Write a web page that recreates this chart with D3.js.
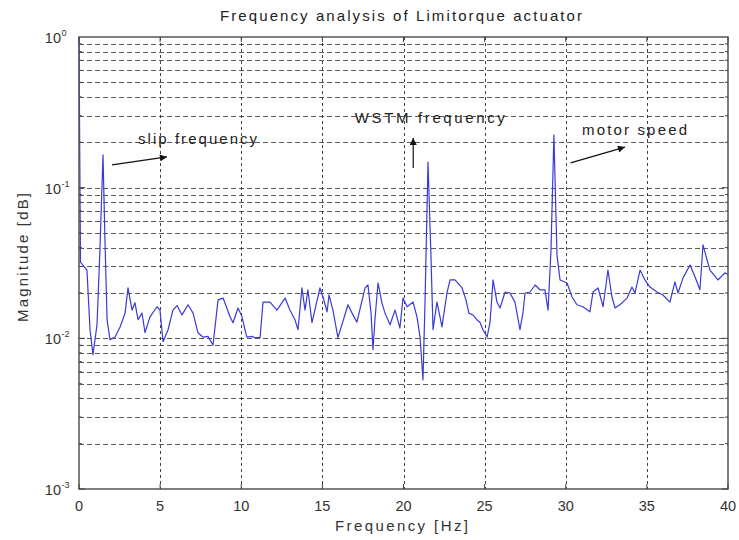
<!DOCTYPE html>
<html>
<head>
<meta charset="utf-8">
<script src="https://cdn.jsdelivr.net/npm/d3@7"></script>
<style>
  html, body { margin: 0; padding: 0; background: #fff; }
  svg { display: block; }
  text { font-family: "Liberation Sans", Arial, Helvetica, sans-serif; }
</style>
</head>
<body>
<svg id="chart" width="739" height="540"></svg>
<script>
// Spectrum of the actuator current (frequency in Hz, magnitude on log scale)
const freqHz = [
  0, 0.09, 0.49, 0.68, 0.86, 1.11, 1.29, 1.48, 1.60, 1.73, 1.91, 2.22, 2.53, 2.84, 3.02,
  3.27, 3.45, 3.64, 3.88, 4.07, 4.38, 4.81, 4.99, 5.18, 5.49, 5.79, 6.04, 6.35, 6.72, 7.03,
  7.33, 7.64, 7.95, 8.26, 8.57, 8.88, 9.31, 9.49, 9.80, 10.05, 10.23, 10.35, 10.66, 10.85, 11.16,
  11.34, 11.77, 12.20, 12.70, 13.00, 13.31, 13.50, 13.74, 13.93, 14.11, 14.36, 14.61, 14.85, 15.04, 15.29,
  15.41, 15.65, 15.96, 16.58, 16.83, 17.13, 17.63, 17.81, 18.00, 18.12, 18.24, 18.43, 18.67, 18.86, 19.17,
  19.48, 19.78, 19.97, 20.22, 20.59, 20.83, 21.02, 21.20, 21.33, 21.51, 21.69, 21.82, 22.06, 22.25, 22.37,
  22.68, 22.87, 23.17, 23.61, 23.85, 24.03, 24.28, 24.52, 24.71, 24.90, 25.15, 25.33, 25.52, 25.76, 25.95,
  26.26, 26.56, 26.87, 27.18, 27.37, 27.49, 27.80, 28.11, 28.41, 28.72, 28.91, 29.09, 29.27, 29.46, 29.65,
  30.08, 30.39, 30.69, 31.06, 31.49, 31.68, 31.99, 32.11, 32.30, 32.60, 32.85, 33.04, 33.34, 33.78, 34.08,
  34.27, 34.58, 34.88, 35.19, 35.62, 35.99, 36.42, 36.73, 36.92, 37.23, 37.66, 37.97, 38.27, 38.46, 38.71,
  38.89, 39.38, 39.81, 40.0
];
const magnitude = [
  1.0, 0.0321, 0.0284, 0.0114, 0.0078, 0.0123, 0.0386, 0.165, 0.045, 0.0133, 0.0098, 0.0102, 0.0119, 0.0147, 0.0216,
  0.0154, 0.0172, 0.0133, 0.0147, 0.0109, 0.0139, 0.0162, 0.0154, 0.0095, 0.0114, 0.0154, 0.0165, 0.0143, 0.0167, 0.0147,
  0.0109, 0.0102, 0.0103, 0.0090, 0.0180, 0.0185, 0.0139, 0.0127, 0.0159, 0.0139, 0.0114, 0.0102, 0.0103, 0.0101, 0.0101,
  0.0174, 0.0174, 0.0154, 0.0185, 0.0154, 0.0133, 0.0114, 0.0216, 0.0154, 0.0210, 0.0127, 0.0167, 0.0216, 0.0188, 0.0150,
  0.0194, 0.0154, 0.0101, 0.0167, 0.0147, 0.0128, 0.0216, 0.0226, 0.0147, 0.0084, 0.0133, 0.0233, 0.0172, 0.0147, 0.0123,
  0.0154, 0.0117, 0.0185, 0.0162, 0.0174, 0.0139, 0.0102, 0.0053, 0.0180, 0.148, 0.0357, 0.0114, 0.0174, 0.0139, 0.0119,
  0.0200, 0.0244, 0.0244, 0.0216, 0.0180, 0.0147, 0.0143, 0.0133, 0.0128, 0.0114, 0.0102, 0.0127, 0.0244, 0.0174, 0.0159,
  0.0203, 0.0200, 0.0174, 0.0114, 0.0150, 0.0200, 0.0203, 0.0226, 0.0210, 0.0210, 0.0154, 0.0386, 0.224, 0.0357, 0.0244,
  0.0233, 0.0188, 0.0167, 0.0162, 0.0150, 0.0203, 0.0216, 0.0194, 0.0162, 0.0284, 0.0188, 0.0159, 0.0167, 0.0185, 0.0219,
  0.0200, 0.0284, 0.0244, 0.0219, 0.0203, 0.0194, 0.0174, 0.0237, 0.0200, 0.0252, 0.0307, 0.0255, 0.0210, 0.0417, 0.0331,
  0.0284, 0.0244, 0.0272, 0.0264
];

const xTicks = [0, 5, 10, 15, 20, 25, 30, 35, 40];
const yDecades = [1e-3, 1e-2, 1e-1, 1];
const yExponents = ["-3", "-2", "-1", "0"];

// Arrow annotations: label anchor and arrow tail/head in data units
const annoLabels = ["slip frequency", "WSTM frequency", "motor speed"];
const annoTextAt = [[3.64, 0.194], [17.0, 0.268], [31.0, 0.222]];
const annoTextWidth = [119, 150, 105];
const annoTail = [[2.03, 0.1415], [20.6, 0.135], [30.3, 0.146]];
const annoHead = [[5.42, 0.160], [20.6, 0.214], [33.65, 0.186]];

const svg = d3.select("#chart");
const plotL = 79, plotR = 728, plotT = 37, plotB = 489;

const x = d3.scaleLinear().domain([0, 40]).range([plotL, plotR]);
const y = d3.scaleLog().domain([1e-3, 1]).range([plotB, plotT]);

// Grid: minor and major horizontal lines, vertical lines at x ticks
const hGrid = [];
for (let d = -3; d < 0; d++) {
  for (let m = 1; m <= 9; m++) hGrid.push(m * Math.pow(10, d));
}
const grid = svg.append("g");
grid.selectAll("line.h").data(hGrid.filter(v => v > 1e-3)).join("line")
  .attr("class", "h")
  .attr("x1", plotL).attr("x2", plotR)
  .attr("y1", d => Math.round(y(d)) + 0.5).attr("y2", d => Math.round(y(d)) + 0.5)
  .attr("stroke", "#333").attr("stroke-width", 1)
  .attr("stroke-dasharray", "5,3").attr("opacity", 0.8);
grid.selectAll("line.v").data(xTicks.slice(1, -1)).join("line")
  .attr("class", "v")
  .attr("x1", d => Math.round(x(d)) + 0.5).attr("x2", d => Math.round(x(d)) + 0.5)
  .attr("y1", plotT).attr("y2", plotB)
  .attr("stroke", "#222").attr("stroke-width", 1)
  .attr("stroke-dasharray", "3,3").attr("opacity", 0.85);

// Spectrum line
const line = d3.line().x((d, i) => x(freqHz[i])).y(d => y(d));
svg.append("path")
  .datum(magnitude)
  .attr("d", line)
  .attr("fill", "none")
  .attr("stroke", "#3a3ad8")
  .attr("stroke-width", 1.2)
  .attr("stroke-linejoin", "round");

// Axes box
svg.append("rect")
  .attr("x", plotL).attr("y", plotT)
  .attr("width", plotR - plotL).attr("height", plotB - plotT)
  .attr("fill", "none").attr("stroke", "#555").attr("stroke-width", 1.5);

// Inward tick marks
const ticks = svg.append("g").attr("stroke", "#444").attr("stroke-width", 1);
xTicks.forEach(t => {
  ticks.append("line").attr("x1", x(t)).attr("x2", x(t)).attr("y1", plotB).attr("y2", plotB - 5);
  ticks.append("line").attr("x1", x(t)).attr("x2", x(t)).attr("y1", plotT).attr("y2", plotT + 5);
});
hGrid.forEach(v => {
  const len = (Math.abs(Math.log10(v) - Math.round(Math.log10(v))) < 1e-9) ? 6 : 3;
  ticks.append("line").attr("x1", plotL).attr("x2", plotL + len).attr("y1", y(v)).attr("y2", y(v));
  ticks.append("line").attr("x1", plotR).attr("x2", plotR - len).attr("y1", y(v)).attr("y2", y(v));
});

// X tick labels
svg.append("g").selectAll("text").data(xTicks).join("text")
  .attr("x", d => x(d)).attr("y", 511)
  .attr("text-anchor", "middle")
  .attr("font-size", 14.5).attr("fill", "#333")
  .text(d => d);

// Y tick labels as 10^n
svg.append("g").selectAll("text").data(yDecades).join("text")
  .attr("x", 61).attr("y", d => y(d) + 6)
  .attr("text-anchor", "end")
  .attr("font-size", 14.5).attr("fill", "#333")
  .text("10");
svg.append("g").selectAll("text").data(yDecades).join("text")
  .attr("x", 61.5).attr("y", d => y(d) - 1)
  .attr("text-anchor", "start")
  .attr("font-size", 9).attr("fill", "#333")
  .text((d, i) => yExponents[i]);

// Title and axis labels
svg.append("text")
  .attr("x", 220).attr("y", 21)
  .attr("font-size", 15).attr("fill", "#222")
  .attr("textLength", 362).attr("lengthAdjust", "spacing")
  .text("Frequency analysis of Limitorque actuator");
svg.append("text")
  .attr("x", 335).attr("y", 531)
  .attr("font-size", 15).attr("fill", "#333")
  .attr("textLength", 133).attr("lengthAdjust", "spacing")
  .text("Frequency [Hz]");
svg.append("text")
  .attr("transform", "translate(28,322) rotate(-90)")
  .attr("x", 0).attr("y", 0)
  .attr("font-size", 15).attr("fill", "#333")
  .attr("textLength", 129).attr("lengthAdjust", "spacing")
  .text("Magnitude [dB]");

// Annotations with arrows
const defs = svg.append("defs");
defs.append("marker")
  .attr("id", "arrowhead")
  .attr("viewBox", "0 0 10 10")
  .attr("refX", 10).attr("refY", 5)
  .attr("markerWidth", 9).attr("markerHeight", 7)
  .attr("markerUnits", "userSpaceOnUse")
  .attr("orient", "auto")
  .append("path").attr("d", "M0,0 L10,5 L0,10 Z").attr("fill", "#111");

annoLabels.forEach((label, i) => {
  svg.append("text")
    .attr("x", x(annoTextAt[i][0])).attr("y", y(annoTextAt[i][1]))
    .attr("font-size", 15).attr("fill", "#222")
    .attr("textLength", annoTextWidth[i]).attr("lengthAdjust", "spacing")
    .text(label);
  svg.append("line")
    .attr("x1", x(annoTail[i][0])).attr("y1", y(annoTail[i][1]))
    .attr("x2", x(annoHead[i][0])).attr("y2", y(annoHead[i][1]))
    .attr("stroke", "#111").attr("stroke-width", 1.2)
    .attr("marker-end", "url(#arrowhead)");
});
</script>
</body>
</html>
